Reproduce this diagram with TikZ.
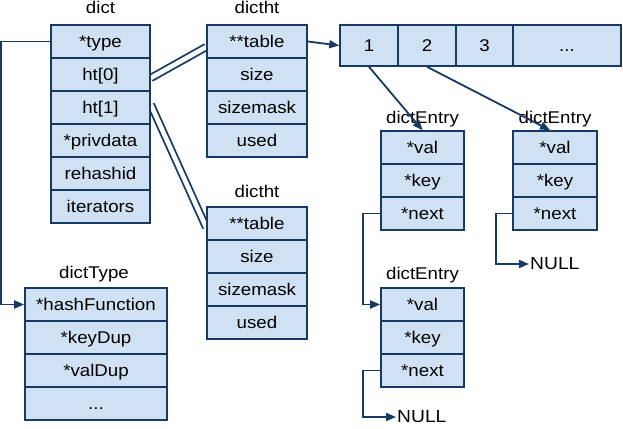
\documentclass[tikz,border=0pt]{standalone}
\usepackage{fontspec}
\setmainfont{Liberation Sans}[FakeStretch=1.1]
\usetikzlibrary{arrows.meta,backgrounds}
\definecolor{lb}{RGB}{207,225,243}
\definecolor{dk}{RGB}{22,58,99}
\begin{document}
\begin{tikzpicture}[x=1pt,y=-1pt,
  cell/.style={draw=dk, fill=lb, line width=1.6pt, inner sep=0pt, text height=12pt, text depth=0pt,
    font=\fontsize{17}{20}\selectfont, minimum height=33pt},
  lbl/.style={anchor=base, inner sep=0pt, font=\fontsize{17}{20}\selectfont},
  arr/.style={draw=dk, line width=1.8pt, -{Triangle[length=10pt,width=8pt]}},
  dbl/.style={draw=dk, line width=1.8pt, double=white, double distance=4.6pt}]
\useasboundingbox (0,0) rectangle (623,428);

% dict
\node[lbl] (l-dict) at (100.5,14) {dict};
\begin{scope}[every node/.append style={cell, minimum width=99pt}]
\node (dt-type) at (100.5,41.5) {*type};
\node (dt-ht0) at (100.5,74.5) {ht[0]};
\node (dt-ht1) at (100.5,107.5) {ht[1]};
\node (dt-priv) at (100.5,140.5) {*privdata};
\node (dt-rehash) at (100.5,173.5) {rehashid};
\node (dt-iter) at (100.5,206.5) {iterators};
\end{scope}

% dictht 1
\node[lbl] (l-ht1) at (257,14) {dictht};
\begin{scope}[every node/.append style={cell, minimum width=100pt}]
\node (ha-table) at (257,41.5) {**table};
\node (ha-size) at (257,74.5) {size};
\node (ha-mask) at (257,107.5) {sizemask};
\node (ha-used) at (257,140.5) {used};
\end{scope}

% dictht 2
\node[lbl] (l-ht2) at (257,197) {dictht};
\begin{scope}[every node/.append style={cell, minimum width=100pt}]
\node (hb-table) at (257,223.5) {**table};
\node (hb-size) at (257,256.5) {size};
\node (hb-mask) at (257,289.5) {sizemask};
\node (hb-used) at (257,322.5) {used};
\end{scope}

% dictType
\node[lbl] (l-type) at (94,278) {dictType};
\begin{scope}[every node/.append style={cell, minimum width=142pt}]
\node (ty-hash) at (96,304.5) {*hashFunction};
\node (ty-key) at (96,337.5) {*keyDup};
\node (ty-val) at (96,370.5) {*valDup};
\node (ty-more) at (96,403.5) {...};
\end{scope}

% table array
\begin{scope}[every node/.append style={cell, minimum height=41pt}]
\node[minimum width=58pt] (tb1) at (369,45.5) {1};
\node[minimum width=58pt] (tb2) at (427,45.5) {2};
\node[minimum width=57pt] (tb3) at (484.5,45.5) {3};
\node[minimum width=108pt] (tb4) at (567,45.5) {...};
\end{scope}

% dictEntry 1
\node[lbl] (l-e1) at (422.5,123) {dictEntry};
\begin{scope}[every node/.append style={cell, minimum width=83pt}]
\node (ea-val) at (422.5,147.5) {*val};
\node (ea-key) at (422.5,180.5) {*key};
\node (ea-next) at (422.5,213.5) {*next};
\end{scope}

% dictEntry 2
\node[lbl] (l-e2) at (555,123) {dictEntry};
\begin{scope}[every node/.append style={cell, minimum width=84pt}]
\node (eb-val) at (555,147.5) {*val};
\node (eb-key) at (555,180.5) {*key};
\node (eb-next) at (555,213.5) {*next};
\end{scope}

% dictEntry 3
\node[lbl] (l-e3) at (422.5,279) {dictEntry};
\begin{scope}[every node/.append style={cell, minimum width=83pt}]
\node (ec-val) at (422.5,304.5) {*val};
\node (ec-key) at (422.5,337.5) {*key};
\node (ec-next) at (422.5,370.5) {*next};
\end{scope}

% NULLs
\node[anchor=west, inner sep=1pt, font=\fontsize{17.5}{20}\selectfont] (null1) at (529,264) {NULL};
\node[anchor=west, inner sep=1pt, font=\fontsize{17.5}{20}\selectfont] (null2) at (396,417) {NULL};

% connectors
\begin{scope}[on background layer]
\draw[dbl] ([yshift=-3.5pt]dt-ht0.east) -- ([yshift=-5.5pt]ha-table.west);
\draw[dbl] ([yshift=3pt]dt-ht1.east) -- ([yshift=-4pt]hb-table.west);
\end{scope}
\draw[arr] (dt-type.west) -- ++(-49,0) |- (ty-hash.west);
\draw[arr] (ha-table.east) -- (tb1.west);
\draw[arr] (tb1.south) -- (ea-val.north);
\draw[arr] (tb2.south) -- ([xshift=-5pt]eb-val.north);
\draw[arr] (ea-next.west) -- ++(-17,0) |- (ec-val.west);
\draw[arr] (eb-next.west) -- ++(-16,0) |- (null1.west);
\draw[arr] (ec-next.west) -- ++(-17,0) |- (null2.west);
\end{tikzpicture}
\end{document}
